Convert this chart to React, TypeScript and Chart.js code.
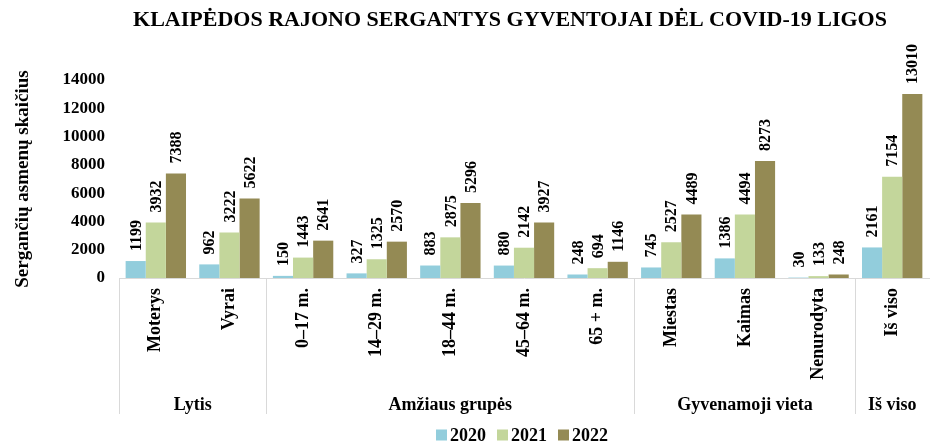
import { useEffect, useRef } from "react";
import { Chart, registerables } from "chart.js";

Chart.register(...registerables);

const FONT = '"Liberation Serif", "Times New Roman", serif';

const titleText = "KLAIPĖDOS RAJONO SERGANTYS GYVENTOJAI DĖL COVID-19 LIGOS";
const yAxisTitle = "Sergančių asmenų skaičius";

const categories = [
  "Moterys",
  "Vyrai",
  "0–17 m.",
  "14–29 m.",
  "18–44 m.",
  "45–64 m.",
  "65 + m.",
  "Miestas",
  "Kaimas",
  "Nenurodyta",
  "Iš viso",
];
const groupNames = ["Lytis", "Amžiaus grupės", "Gyvenamoji vieta", "Iš viso"];
const groupSizes = [2, 5, 3, 1];

const seriesNames = ["2020", "2021", "2022"];
const values2020 = [1199, 962, 150, 327, 883, 880, 248, 745, 1386, 30, 2161];
const values2021 = [3932, 3222, 1443, 1325, 2875, 2142, 694, 2527, 4494, 133, 7154];
const values2022 = [7388, 5622, 2641, 2570, 5296, 3927, 1146, 4489, 8273, 248, 13010];
const seriesColors = ["#92CDDC", "#C3D69B", "#948A54"];

const yMin = 0;
const yMax = 14000;
const yStep = 2000;

const overlayPlugin = {
  id: "overlay",
  afterDatasetsDraw(chart: any) {
    const ctx = chart.ctx;
    ctx.save();
    ctx.font = `bold 16px ${FONT}`;
    ctx.fillStyle = "#000";
    ctx.textAlign = "left";
    ctx.textBaseline = "middle";
    chart.data.datasets.forEach((ds: any, di: number) => {
      const meta = chart.getDatasetMeta(di);
      meta.data.forEach((el: any, i: number) => {
        const v = ds.data[i];
        ctx.save();
        ctx.translate(el.x, el.y - 10);
        ctx.rotate(-Math.PI / 2);
        ctx.fillText(String(v), 0, 1);
        ctx.restore();
      });
    });
    ctx.restore();
  },
  afterDraw(chart: any) {
    const ctx = chart.ctx;
    const area = chart.chartArea;
    const xs = chart.scales.x;
    const p0 = xs.getPixelForValue(0);
    const p1 = xs.getPixelForValue(1);
    const catW = p1 - p0;
    const edge = (idx: number) => p0 - catW / 2 + idx * catW;

    ctx.save();
    // title
    ctx.font = `bold 22px ${FONT}`;
    ctx.fillStyle = "#000";
    ctx.textAlign = "center";
    ctx.textBaseline = "middle";
    ctx.fillText(titleText, 510, 20);

    // group separators and labels
    ctx.strokeStyle = "#D9D9D9";
    ctx.lineWidth = 1;
    let start = 0;
    const bottomY = 414;
    ctx.font = `bold 18px ${FONT}`;
    groupSizes.forEach((n, gi) => {
      const xL = Math.round(edge(start)) + 0.5;
      ctx.beginPath();
      ctx.moveTo(xL, area.bottom);
      ctx.lineTo(xL, bottomY);
      ctx.stroke();
      const xR = Math.min(edge(start + n), area.right);
      ctx.fillText(groupNames[gi], (edge(start) + xR) / 2, 405);
      start += n;
    });

    // legend
    ctx.font = `bold 18px ${FONT}`;
    const box = 11;
    const gapBox = 3;
    const gapItem = 11;
    const widths = seriesNames.map((s) => ctx.measureText(s).width);
    const total =
      widths.reduce((a, b) => a + b, 0) + seriesNames.length * (box + gapBox) + (seriesNames.length - 1) * gapItem;
    let lx = 522 - total / 2;
    const ly = 435;
    ctx.textAlign = "left";
    seriesNames.forEach((s, i) => {
      ctx.fillStyle = seriesColors[i];
      ctx.fillRect(lx, ly - box / 2, box, box);
      lx += box + gapBox;
      ctx.fillStyle = "#000";
      ctx.fillText(s, lx, ly + 1);
      lx += widths[i] + gapItem;
    });
    ctx.restore();
  },
};

export default function App() {
  const ref = useRef<HTMLCanvasElement | null>(null);

  useEffect(() => {
    if (!ref.current) return;
    const chart = new Chart(ref.current, {
      type: "bar",
      data: {
        labels: categories,
        datasets: [
          { label: seriesNames[0], data: values2020, backgroundColor: seriesColors[0] },
          { label: seriesNames[1], data: values2021, backgroundColor: seriesColors[1] },
          { label: seriesNames[2], data: values2022, backgroundColor: seriesColors[2] },
        ],
      },
      options: {
        animation: false,
        responsive: true,
        maintainAspectRatio: false,
        layout: { padding: { top: 80, right: 1, bottom: 0, left: 0 } },
        datasets: {
          bar: { categoryPercentage: 0.82, barPercentage: 1.0 },
        },
        plugins: {
          legend: { display: false },
          title: { display: false },
          tooltip: { enabled: false },
        },
        scales: {
          x: {
            grid: { display: false, drawTicks: false },
            border: { display: true, color: "#D9D9D9", width: 1 },
            ticks: {
              minRotation: 90,
              maxRotation: 90,
              autoSkip: false,
              padding: 10,
              color: "#000",
              font: { family: FONT, size: 18, weight: "bold" },
            },
            afterFit: (scale: any) => {
              scale.height = 444 - 278;
            },
          },
          y: {
            min: yMin,
            max: yMax,
            grid: { display: false, drawTicks: false },
            border: { display: false },
            ticks: {
              stepSize: yStep,
              padding: 14,
              color: "#000",
              font: { family: FONT, size: 17, weight: "bold" },
              callback: (v: any) => String(v),
            },
            title: {
              display: true,
              text: yAxisTitle,
              color: "#000",
              font: { family: FONT, size: 19, weight: "bold" },
              padding: { top: 12, bottom: 0 },
            },
            afterFit: (scale: any) => {
              scale.width = 119;
            },
          },
        },
      },
      plugins: [overlayPlugin],
    });
    return () => chart.destroy();
  }, []);

  return (
    <div style={{ position: "absolute", left: 0, top: 0, width: 930, height: 444 }}>
      <canvas ref={ref} />
    </div>
  );
}
